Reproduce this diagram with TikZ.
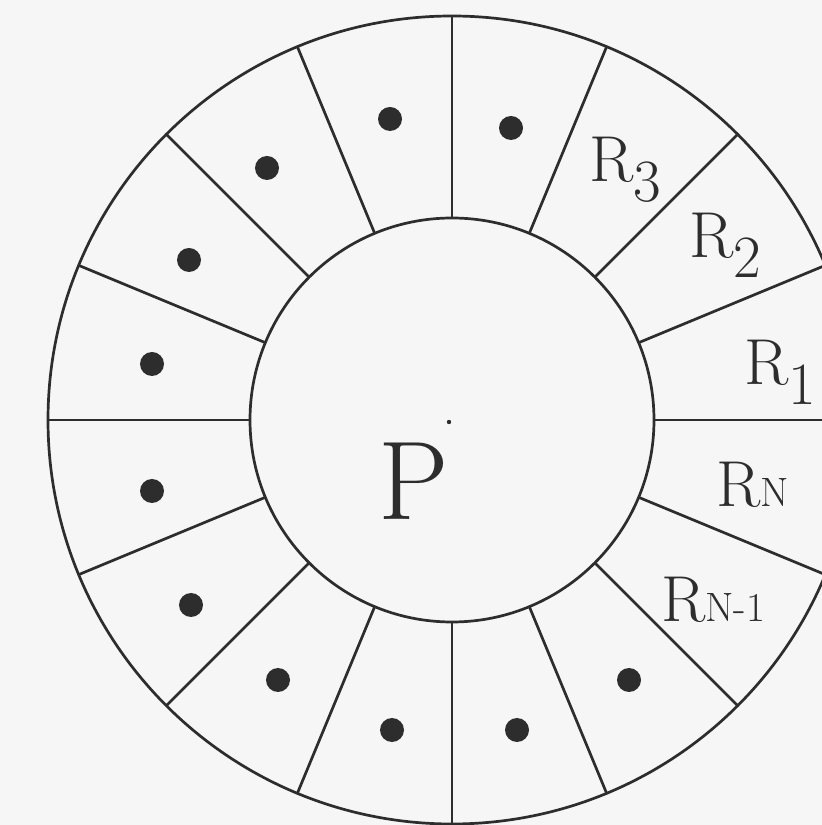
\documentclass[tikz,border=0pt]{standalone}
\usetikzlibrary{calc}
\definecolor{ink}{RGB}{45,45,45}
\definecolor{paper}{RGB}{246,246,246}
\newcommand{\Rlab}[1]{{\fontsize{65}{65}\selectfont R}\raisebox{-20pt}{\fontsize{60}{60}\selectfont #1}}
\newcommand{\Rsc}[1]{{\fontsize{65}{65}\selectfont R}{\fontsize{41}{41}\selectfont #1}}
\begin{document}
\begin{tikzpicture}[x=1pt,y=1pt,line width=2.7pt,
  lab/.style={anchor=base west,inner sep=0pt,text=ink},
  sdot/.style={fill=ink,draw=none}]
\useasboundingbox (0,0) rectangle (822,825);
\fill[paper] (0,0) rectangle (822,825);
\coordinate (O) at (452,405);
\begin{scope}
\clip (0,0) rectangle (822,825);
\draw[ink] (O) circle[radius=404];
\draw[ink] (O) circle[radius=202];
\foreach \a in {0,22.5,...,337.5}
  \draw[ink] ($(O)+(\a:202)$) -- ($(O)+(\a:404)$);
\end{scope}
\foreach \p in {(390,706),(511,697),(267,657),(189,565),(152,461),(152,334),(191,220),(278,145),(392,95),(517,95),(629,145)}
  \fill[sdot] \p circle[radius=12];
\fill[sdot] (449,403) circle[radius=2.2];
\node[lab] (p) at (377,305) {\fontsize{112}{112}\selectfont P};
\node[lab] (r3) at (588,643) {\Rlab{3}};
\node[lab] (r2) at (688,567) {\Rlab{2}};
\node[lab] (r1) at (743,440) {\Rlab{1}};
\node[lab] (rn) at (715,318) {\Rsc{N}};
\node[lab] (rn1) at (660,203) {\Rsc{N-1}};
\end{tikzpicture}
\end{document}
